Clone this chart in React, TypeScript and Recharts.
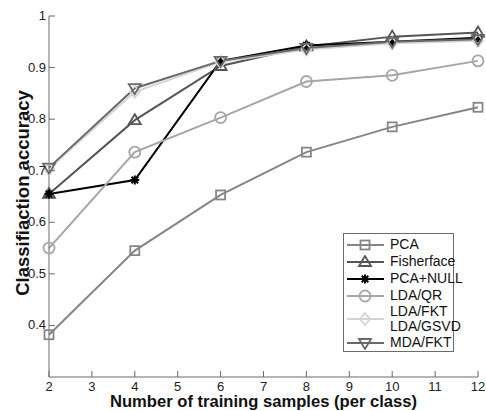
import React from "react"
import { LineChart, Line, XAxis, YAxis } from "recharts"

const samples = [2, 4, 6, 8, 10, 12]
const pca = [0.382, 0.545, 0.653, 0.736, 0.785, 0.823]
const fisherface = [0.655, 0.798, 0.903, 0.941, 0.960, 0.968]
const pcaNull = [0.655, 0.682, 0.913, 0.943, 0.950, 0.958]
const ldaQr = [0.550, 0.736, 0.803, 0.873, 0.885, 0.913]
const ldaFkt = [0.704, 0.853, 0.911, 0.935, 0.947, 0.952]
const mdaFkt = [0.706, 0.860, 0.913, 0.938, 0.950, 0.955]

const xTicks = [2, 3, 4, 5, 6, 7, 8, 9, 10, 11, 12]
const yTicks = [0.4, 0.5, 0.6, 0.7, 0.8, 0.9, 1]

type Shape = "square" | "triUp" | "star" | "circle" | "diamond" | "triDown"

const series: { key: string; name: string[]; color: string; shape: Shape }[] = [
  { key: "pca", name: ["PCA"], color: "#858585", shape: "square" },
  { key: "fisherface", name: ["Fisherface"], color: "#555555", shape: "triUp" },
  { key: "pcaNull", name: ["PCA+NULL"], color: "#000000", shape: "star" },
  { key: "ldaQr", name: ["LDA/QR"], color: "#a6a6a6", shape: "circle" },
  { key: "ldaFkt", name: ["LDA/FKT", "LDA/GSVD"], color: "#d4d4d4", shape: "diamond" },
  { key: "mdaFkt", name: ["MDA/FKT"], color: "#696969", shape: "triDown" },
]

const values: Record<string, number[]> = { pca, fisherface, pcaNull, ldaQr, ldaFkt, mdaFkt }

const data = samples.map((s, i) => {
  const row: Record<string, number> = { s }
  for (const k of Object.keys(values)) row[k] = values[k][i]
  return row
})

const FONT = "Arial, 'Liberation Sans', Helvetica, sans-serif"
const AXIS = "#6b6b6b"

function Marker({ cx, cy, shape, color }: { cx: number; cy: number; shape: Shape; color: string }) {
  const common = { fill: "none", stroke: color, strokeWidth: 1.8 }
  switch (shape) {
    case "square":
      return <rect x={cx - 4.5} y={cy - 4.5} width={9} height={9} {...common} />
    case "triUp":
      return <polygon points={`${cx},${cy - 6} ${cx - 6},${cy + 4} ${cx + 6},${cy + 4}`} {...common} />
    case "triDown":
      return <polygon points={`${cx},${cy + 6} ${cx - 6},${cy - 4} ${cx + 6},${cy - 4}`} {...common} />
    case "circle":
      return <circle cx={cx} cy={cy} r={5.5} {...common} />
    case "diamond":
      return <polygon points={`${cx},${cy - 6} ${cx + 5},${cy} ${cx},${cy + 6} ${cx - 5},${cy}`} {...common} />
    case "star":
      return (
        <g stroke={color} strokeWidth={2}>
          <line x1={cx - 4.5} y1={cy} x2={cx + 4.5} y2={cy} />
          <line x1={cx} y1={cy - 4.5} x2={cx} y2={cy + 4.5} />
          <line x1={cx - 3.3} y1={cy - 3.3} x2={cx + 3.3} y2={cy + 3.3} />
          <line x1={cx - 3.3} y1={cy + 3.3} x2={cx + 3.3} y2={cy - 3.3} />
        </g>
      )
  }
}

function LegendBox() {
  return (
    <div
      style={{
        position: "absolute",
        left: 343,
        top: 233,
        border: `1px solid ${AXIS}`,
        background: "#fff",
        width: 111,
        padding: "2px 0 0 0",
        fontFamily: FONT,
        fontSize: 14,
        color: "#111",
        boxSizing: "border-box",
      }}
    >
      {series.map((sr) => (
        <div key={sr.key} style={{ display: "flex", alignItems: "center", height: sr.name.length === 1 ? 17 : 30 }}>
          <svg width={44} height={14} style={{ flex: "none" }}>
            <line x1={3} y1={7} x2={40} y2={7} stroke={sr.color} strokeWidth={2} />
            <Marker cx={21} cy={7} shape={sr.shape} color={sr.color} />
          </svg>
          <div style={{ lineHeight: "15px", marginLeft: 2 }}>
            {sr.name.map((n) => (
              <div key={n}>{n}</div>
            ))}
          </div>
        </div>
      ))}
    </div>
  )
}

function YTick(props: any) {
  const { x, y, payload } = props
  const v = payload.value
  return (
    <g>
      <line x1={x + 4} y1={y} x2={x + 10} y2={y} stroke={AXIS} />
      <text x={x + 1} y={y} dy={4} textAnchor="end" fontSize={13} fill="#222" fontFamily={FONT}>
        {v === 1 ? "1" : v.toFixed(1)}
      </text>
    </g>
  )
}

function XTick(props: any) {
  const { x, y, payload } = props
  return (
    <g>
      <line x1={x} y1={y - 4} x2={x} y2={y - 10} stroke={AXIS} />
      <text x={x} y={y} dy={10} textAnchor="middle" fontSize={13} fill="#222" fontFamily={FONT}>
        {payload.value}
      </text>
    </g>
  )
}

function RightTick(props: any) {
  const { x, y } = props
  return <line x1={x - 4} y1={y} x2={x - 10} y2={y} stroke={AXIS} />
}

function TopTick(props: any) {
  const { x, y } = props
  return <line x1={x} y1={y + 4} x2={x} y2={y + 10} stroke={AXIS} />
}

function XTitle(props: any) {
  const { viewBox } = props
  return (
    <text
      x={viewBox.x + viewBox.width / 2}
      y={407}
      textAnchor="middle"
      fontFamily={FONT}
      fontSize={16.6}
      fontWeight="bold"
      fill="#111"
    >
      Number of training samples (per class)
    </text>
  )
}

function YTitle() {
  return (
    <text
      transform="translate(29,193) rotate(-90)"
      textAnchor="middle"
      fontFamily={FONT}
      fontSize={18.5}
      fontWeight="bold"
      fill="#111"
    >
      Classifiaction accuracy
    </text>
  )
}

export default function App() {
  return (
    <div style={{ position: "absolute", left: 0, top: 0, width: 486, height: 411, background: "#fff" }}>
      <LineChart width={486} height={411} data={data} margin={{ top: 16, right: 8, bottom: 0, left: 0 }}>
        <XAxis
          dataKey="s"
          type="number"
          domain={[2, 12]}
          ticks={xTicks}
          xAxisId="b"
          height={34}
          tickLine={false}
          tickSize={0}
          tickMargin={4}
          axisLine={{ stroke: AXIS }}
          tick={<XTick />}
          label={<XTitle />}
        />
        <XAxis
          dataKey="s"
          type="number"
          domain={[2, 12]}
          ticks={xTicks}
          xAxisId="t"
          orientation="top"
          height={0}
          tickLine={false}
          tickSize={0}
          tickMargin={0}
          axisLine={{ stroke: AXIS }}
          tick={<TopTick />}
        />
        <YAxis
          yAxisId="l"
          type="number"
          domain={[0.3, 1]}
          ticks={yTicks}
          width={49}
          tickLine={false}
          tickSize={0}
          tickMargin={4}
          axisLine={{ stroke: AXIS }}
          tick={<YTick />}
          label={<YTitle />}
        />
        <YAxis
          yAxisId="r"
          orientation="right"
          type="number"
          domain={[0.3, 1]}
          ticks={yTicks}
          width={0}
          tickLine={false}
          tickSize={0}
          tickMargin={0}
          axisLine={{ stroke: AXIS }}
          tick={<RightTick />}
        />
        {series.map((sr) => (
          <Line
            key={sr.key}
            dataKey={sr.key}
            xAxisId="b"
            yAxisId="l"
            type="linear"
            stroke={sr.color}
            strokeWidth={2}
            isAnimationActive={false}
            dot={(p: any) => (
              <Marker key={`${sr.key}-${p.index}`} cx={p.cx} cy={p.cy} shape={sr.shape} color={sr.color} />
            )}
          />
        ))}
      </LineChart>
      <LegendBox />
    </div>
  )
}
